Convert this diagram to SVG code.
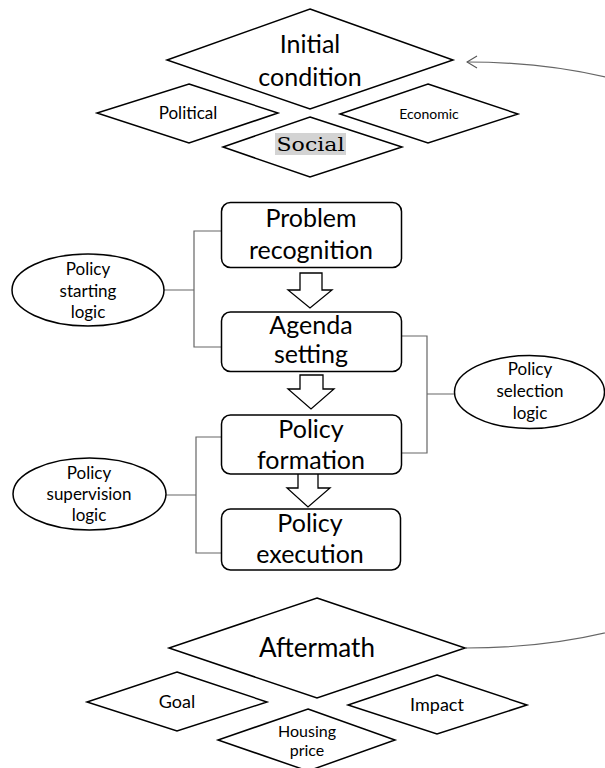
<svg xmlns="http://www.w3.org/2000/svg" width="605" height="768" viewBox="0 0 605 768">
<defs>
<style>
.sh{fill:#fff;stroke:#000;stroke-width:1.5}
.t{font-family:Lato,"Liberation Sans",sans-serif;fill:#000;text-anchor:middle}
.c{fill:none;stroke:#666;stroke-width:1.2}
.ba{fill:#fff;stroke:#000;stroke-width:1.3}
</style>
<marker id="open" viewBox="0 0 12 14" refX="11" refY="7" markerWidth="12" markerHeight="14" markerUnits="userSpaceOnUse" orient="auto">
<path d="M1,1 L11,7 L1,13" fill="none" stroke="#555" stroke-width="1.1"/>
</marker>
</defs>
<rect width="605" height="768" fill="#fff"/>

<g id="connectors">
<path class="c" d="M466,648 C1000,648 1000,62 467,62" marker-end="url(#open)"/>
<path class="c" d="M164,290 H194 M221,231 H194 V347 H221"/>
<path class="c" d="M454,394 H427 M402,336 H427 V453 H402"/>
<path class="c" d="M166,495 H196 M221,437 H196 V553 H221"/>
<polygon class="ba" points="300,273 322,273 322,290 332,290 310,308 288,290 300,290"/>
<polygon class="ba" points="300,375 323,375 323,389 334,389 311,409 288,389 300,389"/>
<polygon class="ba" points="298,472 318,472 318,488 330,488 308,507 287,488 298,488"/>
</g>

<g id="initial-condition">
<polygon class="sh" points="310,9 453,60 310,109 167,60"/>
<text class="t" x="310" y="53" font-size="25">Initial</text>
<text class="t" x="310" y="86" font-size="25">condition</text>
</g>
<g id="political">
<polygon class="sh" points="189,84 278,113 189,143 97,113"/>
<text class="t" x="188" y="119" font-size="17">Political</text>
</g>
<g id="economic">
<polygon class="sh" points="428,84 518,114 428,143 340,114"/>
<text class="t" x="429" y="119" font-size="14">Economic</text>
</g>
<g id="social">
<polygon class="sh" points="310,117 402,147 310,177 223,147"/>
<rect x="275" y="133" width="71" height="22" fill="#d3d3d3"/>
<text x="310.5" y="150.5" font-size="19" font-family="'DejaVu Serif','Liberation Serif',serif" text-anchor="middle" textLength="68" lengthAdjust="spacingAndGlyphs">Social</text>
</g>

<g id="problem-recognition">
<rect class="sh" x="221.5" y="202.5" width="180" height="65" rx="9"/>
<text class="t" x="311" y="227" font-size="25">Problem</text>
<text class="t" x="311" y="259" font-size="25">recognition</text>
</g>
<g id="agenda-setting">
<rect class="sh" x="221.5" y="312" width="180" height="59.5" rx="9"/>
<text class="t" x="311" y="334" font-size="25">Agenda</text>
<text class="t" x="311" y="363" font-size="25">setting</text>
</g>
<g id="policy-formation">
<rect class="sh" x="221.5" y="415" width="180" height="59" rx="9"/>
<text class="t" x="311" y="438" font-size="25">Policy</text>
<text class="t" x="311" y="469" font-size="25">formation</text>
</g>
<g id="policy-execution">
<rect class="sh" x="221.5" y="509" width="179" height="61" rx="9"/>
<text class="t" x="310" y="532" font-size="25">Policy</text>
<text class="t" x="310" y="563" font-size="25">execution</text>
</g>

<g id="policy-starting-logic">
<ellipse class="sh" cx="88" cy="290" rx="76" ry="36"/>
<text class="t" x="88" y="275" font-size="17">Policy</text>
<text class="t" x="88" y="297" font-size="17">starting</text>
<text class="t" x="88" y="318" font-size="17">logic</text>
</g>
<g id="policy-selection-logic">
<ellipse class="sh" cx="529.5" cy="392" rx="75" ry="36.5"/>
<text class="t" x="530" y="375" font-size="17">Policy</text>
<text class="t" x="530" y="397" font-size="17">selection</text>
<text class="t" x="530" y="419" font-size="17">logic</text>
</g>
<g id="policy-supervision-logic">
<ellipse class="sh" cx="89.5" cy="494" rx="76.5" ry="36"/>
<text class="t" x="89" y="479" font-size="17">Policy</text>
<text class="t" x="89" y="500" font-size="17">supervision</text>
<text class="t" x="89" y="521" font-size="17">logic</text>
</g>

<g id="aftermath">
<polygon class="sh" points="317,598 465,648 317,698 169,648"/>
<text class="t" x="317" y="657" font-size="26">Aftermath</text>
</g>
<g id="goal">
<polygon class="sh" points="177,672 267,702 177,731 87,702"/>
<text class="t" x="177" y="708" font-size="18">Goal</text>
</g>
<g id="impact">
<polygon class="sh" points="437,675 527,705 437,734 348,705"/>
<text class="t" x="437" y="711" font-size="18">Impact</text>
</g>
<g id="housing-price">
<polygon class="sh" points="308,709 395,740 308,771 218,740"/>
<text class="t" x="307" y="737" font-size="16">Housing</text>
<text class="t" x="307" y="756" font-size="16">price</text>
</g>
</svg>
